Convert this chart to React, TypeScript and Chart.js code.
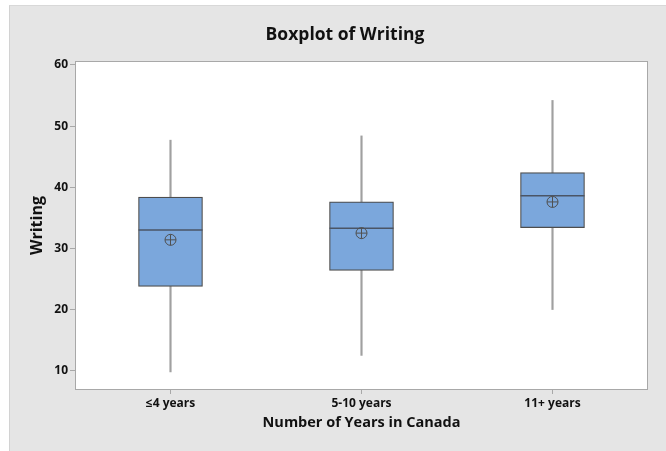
import React, { useEffect, useRef } from "react";
import { Chart, registerables } from "chart.js";

Chart.register(...registerables);

const categories = ["≤4 years", "5-10 years", "11+ years"];
const whiskerLow = [9.8, 12.5, 20.0];
const q1 = [23.8, 26.4, 33.4];
const medians = [33.0, 33.3, 38.6];
const q3 = [38.4, 37.6, 42.4];
const whiskerHigh = [47.7, 48.4, 54.2];
const means = [31.4, 32.5, 37.6];
const yTicks = [10, 20, 30, 40, 50, 60];
const chartTitle = "Boxplot of Writing";

const FONT = "'Open Sans', 'Noto Sans', sans-serif";

const frame = {
  id: "frame",
  beforeDatasetsDraw(chart: any) {
    const { ctx, chartArea } = chart;
    ctx.save();
    ctx.fillStyle = "#ffffff";
    ctx.fillRect(chartArea.left, chartArea.top, chartArea.right - chartArea.left, chartArea.bottom - chartArea.top);
    ctx.restore();
  },
  afterDraw(chart: any) {
    const { ctx, chartArea } = chart;
    ctx.save();
    ctx.strokeStyle = "#a8a8a8";
    ctx.lineWidth = 1;
    ctx.strokeRect(chartArea.left + 0.5, chartArea.top + 0.5, chartArea.right - chartArea.left - 1, chartArea.bottom - chartArea.top - 1);
    ctx.fillStyle = "#111111";
    ctx.font = `bold 17.5px ${FONT}`;
    ctx.textAlign = "center";
    ctx.textBaseline = "middle";
    ctx.fillText(chartTitle, 345, 35);
    ctx.restore();
  },
};

export default function App() {
  const ref = useRef<HTMLCanvasElement>(null);
  useEffect(() => {
    if (!ref.current) return;
    const chart = new Chart(ref.current, {
      type: "bar",
      data: {
        labels: categories,
        datasets: [
          {
            type: "line",
            data: means,
            showLine: false,
            pointStyle: "circle",
            pointRadius: 5.5,
            pointBorderColor: "#505050",
            pointBackgroundColor: "rgba(0,0,0,0)",
            pointBorderWidth: 1,
            order: 1,
          } as any,
          {
            type: "line",
            data: means,
            showLine: false,
            pointStyle: "cross",
            pointRadius: 5.5,
            pointBorderColor: "#505050",
            pointBorderWidth: 1,
            order: 1,
          } as any,
          {
            type: "line",
            data: medians,
            showLine: false,
            pointStyle: "line",
            pointRadius: 32,
            pointBorderColor: "#4a5566",
            pointBorderWidth: 1.5,
            order: 2,
          } as any,
          {
            type: "bar",
            data: categories.map((_, i) => [q1[i], q3[i]]),
            backgroundColor: "#7ba7dc",
            borderColor: "#4d4d4d",
            borderWidth: 1.2,
            borderSkipped: false,
            barThickness: 64,
            grouped: false,
            order: 3,
          } as any,
          {
            type: "bar",
            data: categories.map((_, i) => [whiskerLow[i], whiskerHigh[i]]),
            backgroundColor: "#a0a0a0",
            borderWidth: 0,
            barThickness: 1.5,
            grouped: false,
            order: 4,
          } as any,
        ],
      },
      options: {
        responsive: false,
        animation: false,
        layout: { autoPadding: false, padding: { left: 0, right: 18, top: 61, bottom: 0 } },
        plugins: {
          legend: { display: false },
          tooltip: { enabled: false },
          title: { display: false },
        },
        scales: {
          x: {
            offset: true,
            grid: { display: true, drawOnChartArea: false, tickLength: 4, color: "#a8a8a8", offset: false },
            border: { display: false },
            ticks: { color: "#111111", font: { family: FONT, size: 12, weight: "bold" }, padding: 2 },
            title: {
              display: true,
              text: "Number of Years in Canada",
              color: "#111111",
              font: { family: FONT, size: 14.5, weight: "bold", lineHeight: 1.2 },
              padding: { top: 0, bottom: 19 },
            },
            afterFit(scale: any) {
              scale.height = 61;
            },
          },
          y: {
            min: 6.84,
            max: 60.65,
            afterBuildTicks(scale: any) {
              scale.ticks = yTicks.map((v) => ({ value: v }));
            },
            grid: { display: true, drawOnChartArea: false, tickLength: 5, color: "#a8a8a8" },
            border: { display: false },
            ticks: { color: "#111111", font: { family: FONT, size: 12, weight: "bold" }, padding: 2 },
            title: {
              display: true,
              text: "Writing",
              color: "#111111",
              font: { family: FONT, size: 16, weight: "bold", lineHeight: 1.2 },
              padding: { top: 28, bottom: 0 },
            },
            afterFit(scale: any) {
              scale.width = 75;
            },
          },
        },
      },
      plugins: [frame],
    } as any);
    return () => chart.destroy();
  }, []);

  return (
    <div style={{ position: "fixed", left: 0, top: 0, width: 666, height: 451, background: "#ffffff" }}>
      <div
        style={{
          position: "absolute",
          left: 9,
          top: 5,
          width: 657,
          height: 446,
          background: "#e5e5e5",
          borderLeft: "1px solid #d2d2d2",
          borderTop: "1px solid #d8d8d8",
          boxSizing: "border-box",
        }}
      />
      <canvas ref={ref} width={666} height={451} style={{ position: "absolute", left: 0, top: 0 }} />
    </div>
  );
}
